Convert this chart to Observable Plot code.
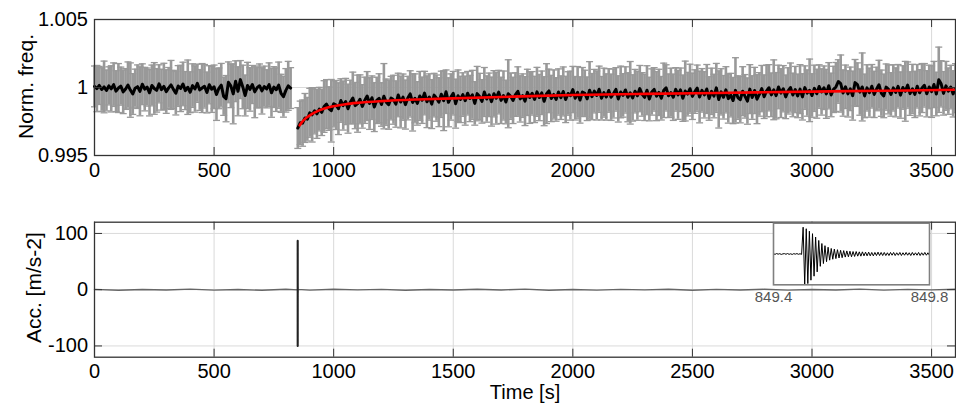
<!DOCTYPE html>
<html>
<head>
<meta charset="utf-8">
<script src="https://cdn.jsdelivr.net/npm/d3@7"></script>
<script src="https://cdn.jsdelivr.net/npm/@observablehq/plot@0.6"></script>
<style>
html, body { margin: 0; padding: 0; background: #fff; }
#chart { position: relative; width: 956px; height: 406px; overflow: hidden; background: #fff; }
#chart svg { position: absolute; left: 0; top: 0; overflow: visible; }
</style>
</head>
<body>
<div id="chart"></div>
<script>
// ---------- tick values and labels ----------
const xTicks = [0, 500, 1000, 1500, 2000, 2500, 3000, 3500];
const xTickLabels = ["0", "500", "1000", "1500", "2000", "2500", "3000", "3500"];
const freqTicks = [0.995, 1, 1.005];
const freqTickLabels = ["0.995", "1", "1.005"];
const accTicks = [-100, 0, 100];
const accTickLabels = ["-100", "0", "100"];
const insetTicks = [849.4, 849.8];
const insetTickLabels = ["849.4", "849.8"];

// ---------- top panel: normalised frequency ----------
// before the shock: one sample every 10 s, 0 .. 820 s
const timeBefore = d3.range(0, 821, 10);
const freqBefore = [
  1.00008,0.99992,1.00015,0.99985,1.00004,0.99978,1.00012,0.99990,1.00021,0.99973,
  0.99996,1.00010,0.99968,0.99989,1.00018,0.99981,0.99952,0.99995,1.00006,0.99972,
  1.00024,0.99988,1.00003,0.99961,1.00015,0.99993,0.99979,1.00027,0.99984,1.00008,
  0.99970,0.99997,1.00019,0.99986,0.99958,1.00011,0.99993,1.00026,0.99977,1.00002,
  0.99965,1.00014,0.99989,1.00031,0.99982,0.99996,1.00009,0.99963,1.00020,0.99987,
  1.00005,0.99948,0.99994,1.00017,0.99935,0.99918,1.00038,1.00012,0.99953,1.00046,
  0.99972,1.00058,1.00004,0.99941,1.00015,0.99986,1.00022,0.99968,0.99999,1.00013,
  0.99975,1.00007,0.99990,1.00021,0.99961,1.00003,0.99984,1.00017,0.99957,0.99932,
  0.99979,1.00012,0.99996
];
const errBefore = [
  0.0015,0.0017,0.0014,0.0016,0.0019,0.0015,0.0014,0.0017,0.0016,0.0015,
  0.0018,0.0014,0.0016,0.0015,0.0017,0.0020,0.0015,0.0014,0.0016,0.0018,
  0.0015,0.0016,0.0014,0.0017,0.0015,0.0019,0.0016,0.0014,0.0015,0.0017,
  0.0016,0.0015,0.0018,0.0014,0.0016,0.0015,0.0017,0.0016,0.0014,0.0020,
  0.0015,0.0016,0.0017,0.0014,0.0015,0.0018,0.0016,0.0015,0.0014,0.0017,
  0.0016,0.0019,0.0015,0.0016,0.0014,0.0017,0.0015,0.0016,0.0022,0.0015,
  0.0018,0.0014,0.0016,0.0015,0.0017,0.0016,0.0014,0.0019,0.0015,0.0016,
  0.0017,0.0015,0.0014,0.0016,0.0018,0.0015,0.0016,0.0017,0.0014,0.0015,
  0.0016,0.0018,0.0015
];
// after the shock: one sample every 10 s, 850 .. 3600 s
const timeAfter = d3.range(850, 3601, 10);
const freqAfter = [
  0.99702,0.99740,0.99738,0.99776,0.99767,0.99814,0.99799,0.99829,0.99806,0.99841,
  0.99817,0.99860,0.99878,0.99845,0.99829,0.99881,0.99871,0.99844,0.99904,0.99867,
  0.99897,0.99844,0.99893,0.99923,0.99867,0.99881,0.99913,0.99861,0.99906,0.99937,
  0.99882,0.99925,0.99856,0.99905,0.99921,0.99875,0.99936,0.99892,0.99873,0.99922,
  0.99910,0.99878,0.99945,0.99893,0.99929,0.99874,0.99922,0.99953,0.99890,0.99920,
  0.99883,0.99938,0.99906,0.99959,0.99895,0.99930,0.99878,0.99944,0.99922,0.99892,
  0.99950,0.99903,0.99969,0.99891,0.99930,0.99958,0.99881,0.99939,0.99912,0.99948,
  0.99903,0.99958,0.99919,0.99946,0.99883,0.99955,0.99934,0.99898,0.99967,0.99915,
  0.99946,0.99896,0.99954,0.99921,0.99966,0.99905,0.99941,0.99893,0.99954,0.99936,
  0.99905,0.99948,0.99972,0.99916,0.99940,0.99900,0.99964,0.99926,0.99957,0.99912,
  0.99968,0.99926,0.99961,0.99899,0.99955,0.99975,0.99919,0.99949,0.99912,0.99967,
  0.99925,0.99971,0.99912,0.99956,0.99940,0.99985,0.99921,0.99964,0.99908,0.99967,
  0.99957,0.99917,0.99980,0.99933,0.99973,0.99941,0.99987,0.99921,0.99962,0.99930,
  0.99978,0.99928,0.99956,0.99986,0.99916,0.99967,0.99942,0.99982,0.99928,0.99961,
  0.99923,0.99973,0.99939,0.99992,0.99949,0.99927,0.99980,0.99915,0.99967,0.99986,
  0.99936,0.99964,0.99921,0.99979,0.99997,0.99939,0.99962,0.99928,0.99986,0.99946,
  0.99983,0.99921,0.99974,0.99951,0.99991,0.99935,0.99970,0.99995,0.99930,0.99979,
  0.99946,0.99989,0.99919,0.99972,0.99937,0.99997,0.99912,0.99968,0.99928,0.99983,
  0.99918,0.99944,0.99904,0.99979,0.99926,0.99910,0.99973,0.99935,0.99900,0.99988,
  0.99926,0.99978,0.99914,0.99949,0.99992,0.99932,0.99975,0.99998,0.99946,0.99983,
  0.99940,1.00004,0.99959,0.99991,0.99931,0.99975,1.00000,0.99945,0.99985,0.99938,
  0.99988,0.99931,0.99999,0.99959,0.99979,0.99941,0.99994,0.99954,1.00007,0.99967,
  0.99998,0.99953,1.00013,0.99945,0.99986,1.00004,1.00044,1.00029,0.99959,1.00005,
  0.99953,0.99990,0.99940,1.00036,1.00021,0.99966,1.00004,0.99938,0.99997,0.99962,
  1.00009,0.99949,0.99989,1.00020,0.99958,0.99938,1.00003,0.99986,0.99949,0.99997,
  0.99964,1.00009,0.99944,1.00000,0.99972,1.00018,0.99955,0.99990,0.99949,1.00009,
  0.99961,0.99996,1.00016,0.99954,1.00004,0.99970,1.00022,0.99952,1.00057,1.00027,
  0.99957,1.00012,0.99973,1.00003,0.99953,0.99995
];
const errAfter = [
  0.0015,0.0016,0.0017,0.0018,0.0016,0.0018,0.0020,0.0017,0.0018,0.0016,
  0.0017,0.0019,0.0018,0.0016,0.0023,0.0017,0.0018,0.0019,0.0016,0.0018,
  0.0017,0.0018,0.0016,0.0019,0.0017,0.0021,0.0018,0.0016,0.0017,0.0018,
  0.0019,0.0016,0.0018,0.0017,0.0018,0.0016,0.0024,0.0017,0.0018,0.0016,
  0.0018,0.0017,0.0016,0.0019,0.0017,0.0018,0.0016,0.0017,0.0021,0.0018,
  0.0016,0.0018,0.0017,0.0016,0.0019,0.0017,0.0018,0.0016,0.0017,0.0018,
  0.0017,0.0022,0.0016,0.0018,0.0017,0.0016,0.0018,0.0019,0.0017,0.0016,
  0.0018,0.0016,0.0017,0.0018,0.0016,0.0020,0.0017,0.0016,0.0018,0.0017,
  0.0016,0.0018,0.0017,0.0019,0.0016,0.0017,0.0018,0.0016,0.0025,0.0017,
  0.0017,0.0016,0.0018,0.0017,0.0016,0.0018,0.0017,0.0019,0.0016,0.0017,
  0.0018,0.0017,0.0016,0.0018,0.0022,0.0016,0.0017,0.0018,0.0016,0.0017,
  0.0016,0.0018,0.0017,0.0016,0.0018,0.0017,0.0016,0.0019,0.0017,0.0018,
  0.0017,0.0016,0.0021,0.0017,0.0016,0.0018,0.0017,0.0016,0.0018,0.0017,
  0.0016,0.0017,0.0018,0.0016,0.0017,0.0019,0.0016,0.0017,0.0018,0.0023,
  0.0017,0.0016,0.0018,0.0017,0.0016,0.0017,0.0018,0.0016,0.0017,0.0016,
  0.0018,0.0017,0.0016,0.0020,0.0017,0.0016,0.0018,0.0017,0.0016,0.0018,
  0.0016,0.0017,0.0022,0.0016,0.0018,0.0017,0.0016,0.0017,0.0019,0.0016,
  0.0017,0.0018,0.0016,0.0017,0.0016,0.0018,0.0021,0.0017,0.0016,0.0017,
  0.0018,0.0016,0.0017,0.0024,0.0016,0.0017,0.0018,0.0016,0.0017,0.0018,
  0.0016,0.0017,0.0018,0.0016,0.0017,0.0016,0.0019,0.0017,0.0016,0.0022,
  0.0017,0.0016,0.0018,0.0017,0.0016,0.0017,0.0018,0.0016,0.0017,0.0016,
  0.0018,0.0017,0.0016,0.0017,0.0023,0.0016,0.0017,0.0018,0.0016,0.0017,
  0.0016,0.0018,0.0017,0.0016,0.0017,0.0018,0.0016,0.0021,0.0017,0.0016,
  0.0017,0.0016,0.0018,0.0017,0.0016,0.0017,0.0025,0.0016,0.0017,0.0018,
  0.0016,0.0017,0.0016,0.0018,0.0017,0.0016,0.0017,0.0018,0.0016,0.0017,
  0.0018,0.0016,0.0017,0.0016,0.0022,0.0017,0.0016,0.0018,0.0017,0.0016,
  0.0017,0.0018,0.0016,0.0017,0.0016,0.0019,0.0017,0.0016,0.0024,0.0017,
  0.0016,0.0018,0.0017,0.0016,0.0017,0.0018
];
// fitted recovery curve (red)
const fitTime = [858, 865, 875, 890, 910, 935, 965, 1000, 1050, 1100, 1200, 1350, 1500, 1750, 2000, 2300, 2600, 3000, 3300, 3600];
const fitFreq = [0.99722, 0.99740, 0.99760, 0.99783, 0.99806, 0.99828, 0.99847, 0.99862, 0.99877, 0.99887, 0.99900, 0.99912, 0.99920, 0.99933, 0.99945, 0.99953, 0.99960, 0.99970, 0.99976, 0.99983];

// ---------- bottom panel: acceleration ----------
const accBaseTime = [0,100,200,300,400,500,600,700,800,849.3,849.9,900,1000,1100,1200,1300,1400,1500,1600,1700,1800,1900,2000,2100,2200,2300,2400,2500,2600,2700,2800,2900,3000,3100,3200,3300,3400,3500,3600];
const accBaseValue = [0.6,-0.9,0.4,-0.5,1.0,-0.7,0.3,-1.1,0.8,-0.4,0.5,-0.8,0.9,-0.3,0.6,-1.0,0.4,-0.6,0.8,-0.5,1.1,-0.9,0.3,-0.7,0.6,-0.4,0.9,-1.0,0.5,-0.6,0.7,-0.8,0.4,-0.5,1.0,-0.7,0.6,-0.3,0.8];
// shock record, one sample every 4 ms from 849.400 s to 849.800 s
const insetTime = d3.range(101).map(i => +(849.4 + i * 0.004).toFixed(3));
const accInset = [
  0.8,-1.2,1.5,-0.6,1.1,-1.4,0.4,1.3,-0.9,1.6,-1.1,0.7,-1.5,1.2,-0.5,1.4,-1.0,0.9,-1.3,
  87,-100,82,-96,74,-85,66,-72,55,-58,44,-40,34,-31,27,-25,22,-20,18,-17,16,-15,14,-13,12,-12,11,-10,10,-9,9,-9,8,-8,8,-7,7,-7,7,-6,6,-6,
  6,-6,5,-6,5,-5,6,-5,5,-5,5,-5,4,-5,5,-4,5,-5,4,-4,5,-5,4,-4,5,-4,4,-5,5,-4,4,-4,5,-5,4,-4,5,-4,4,-5
];

// ---------- build tables ----------
const freqData = [
  ...timeBefore.map((t, i) => ({t, f: freqBefore[i], e: errBefore[i], seg: "before"})),
  ...timeAfter.map((t, i) => ({t, f: freqAfter[i], e: errAfter[i], seg: "after"}))
];
const fitData = fitTime.map((t, i) => ({t, f: fitFreq[i]}));
const insetData = insetTime.map((t, i) => ({t, a: accInset[i]}));
const accData = [
  ...accBaseTime.map((t, i) => ({t, a: accBaseValue[i]})),
  ...insetData
].sort((p, q) => p.t - q.t);

const FONT = '"Liberation Sans", Arial, Helvetica, sans-serif';
const FRAME = "#333";
const GRID = "#dadada";
const ERR = "#999999";
const fmt = (ticks, labels) => d => labels[ticks.indexOf(d)];
const capSymbol = {
  draw(ctx, size) {
    const w = Math.sqrt(size / Math.PI);
    ctx.moveTo(-w, 0);
    ctx.lineTo(w, 0);
  }
};

const chart = document.getElementById("chart");

// ---------- top plot ----------
const topW = 956, topH = 200, tML = 94, tMR = 1, tMT = 19, tMB = 45;
const tFW = topW - tML - tMR, tFH = topH - tMT - tMB;
const topPlot = Plot.plot({
  width: topW, height: topH,
  marginLeft: tML, marginRight: tMR, marginTop: tMT, marginBottom: tMB,
  style: {fontFamily: FONT, fontSize: "20px", background: "transparent", color: "#000"},
  x: {domain: [0, 3600]},
  y: {domain: [0.995, 1.005]},
  marks: [
    Plot.ruleX(xTicks, {stroke: GRID}),
    Plot.ruleY(freqTicks, {stroke: GRID}),
    Plot.ruleX(freqData, {x: "t", y1: d => d.f - d.e, y2: d => d.f + d.e, stroke: ERR, strokeWidth: 2.6}),
    Plot.dot(freqData, {x: "t", y: d => d.f + d.e, symbol: capSymbol, r: 3.5, fill: "none", stroke: ERR, strokeWidth: 1.3}),
    Plot.dot(freqData, {x: "t", y: d => d.f - d.e, symbol: capSymbol, r: 3.5, fill: "none", stroke: ERR, strokeWidth: 1.3}),
    Plot.line(freqData, {x: "t", y: "f", z: "seg", stroke: "#000", strokeWidth: 3}),
    Plot.line(fitData, {x: "t", y: "f", stroke: "#ff0000", strokeWidth: 2.6, curve: "monotone-x"}),
    Plot.frame({stroke: FRAME, strokeWidth: 1.3}),
    Plot.tickX(xTicks, {x: d => d, insetTop: tFH - 8, stroke: FRAME}),
    Plot.tickX(xTicks, {x: d => d, insetBottom: tFH - 8, stroke: FRAME}),
    Plot.tickY(freqTicks, {y: d => d, insetRight: tFW - 8, stroke: FRAME}),
    Plot.tickY(freqTicks, {y: d => d, insetLeft: tFW - 8, stroke: FRAME}),
    Plot.axisX({ticks: xTicks, tickSize: 0, tickPadding: 7, tickFormat: fmt(xTicks, xTickLabels), fontSize: 20, label: null}),
    Plot.axisY({ticks: freqTicks, tickSize: 0, tickPadding: 6.5, tickFormat: fmt(freqTicks, freqTickLabels), fontSize: 20, label: null}),
    Plot.text(["Norm. freq."], {text: d => d, frameAnchor: "left", textAnchor: "middle", lineAnchor: "middle", dx: -68, dy: -1, rotate: -90, fontSize: 21})
  ]
});
topPlot.style.left = "0px";
topPlot.style.top = "0px";
chart.appendChild(topPlot);

// ---------- bottom plot ----------
const botW = 956, botH = 206, bML = 94, bMR = 1, bMT = 21.7, bMB = 49.3;
const bFW = botW - bML - bMR, bFH = botH - bMT - bMB;
const botPlot = Plot.plot({
  width: botW, height: botH,
  marginLeft: bML, marginRight: bMR, marginTop: bMT, marginBottom: bMB,
  style: {fontFamily: FONT, fontSize: "20px", background: "transparent", color: "#000"},
  x: {domain: [0, 3600]},
  y: {domain: [-120, 120]},
  marks: [
    Plot.ruleX(xTicks, {stroke: GRID}),
    Plot.ruleY(accTicks, {stroke: GRID}),
    Plot.line(accData, {x: "t", y: "a", stroke: "#666", strokeWidth: 1.4}),
    Plot.line(insetData, {x: "t", y: "a", stroke: "#222", strokeWidth: 2}),
    Plot.frame({stroke: FRAME, strokeWidth: 1.3}),
    Plot.tickX(xTicks, {x: d => d, insetTop: bFH - 8, stroke: FRAME}),
    Plot.tickX(xTicks, {x: d => d, insetBottom: bFH - 8, stroke: FRAME}),
    Plot.tickY(accTicks, {y: d => d, insetRight: bFW - 8, stroke: FRAME}),
    Plot.tickY(accTicks, {y: d => d, insetLeft: bFW - 8, stroke: FRAME}),
    Plot.axisX({ticks: xTicks, tickSize: 0, tickPadding: 7, tickFormat: fmt(xTicks, xTickLabels), fontSize: 20, label: null}),
    Plot.axisY({ticks: accTicks, tickSize: 0, tickPadding: 6.5, tickFormat: fmt(accTicks, accTickLabels), fontSize: 20, label: null}),
    Plot.text(["Acc. [m/s-2]"], {text: d => d, frameAnchor: "left", textAnchor: "middle", lineAnchor: "middle", dx: -60, dy: -2, rotate: -90, fontSize: 21}),
    Plot.text(["Time [s]"], {text: d => d, frameAnchor: "bottom", textAnchor: "middle", lineAnchor: "middle", dy: 35, fontSize: 20})
  ]
});
botPlot.style.left = "0px";
botPlot.style.top = "200px";
chart.appendChild(botPlot);

// ---------- inset ----------
const insetPlot = Plot.plot({
  width: 216, height: 100,
  marginLeft: 30, marginRight: 30, marginTop: 10.7, marginBottom: 27.7,
  style: {fontFamily: FONT, fontSize: "15px", background: "transparent", color: "#555"},
  x: {domain: [849.4, 849.8]},
  y: {domain: [-100, 100], axis: null},
  marks: [
    Plot.frame({fill: "#fff", stroke: null}),
    Plot.line(insetData, {x: "t", y: "a", stroke: "#000", strokeWidth: 1}),
    Plot.frame({stroke: "#808080", strokeWidth: 1.6}),
    Plot.axisX({ticks: insetTicks, tickSize: 0, tickPadding: 7, tickFormat: fmt(insetTicks, insetTickLabels), fontSize: 15, color: "#555", label: null})
  ]
});
insetPlot.style.left = "743px";
insetPlot.style.top = "212px";
chart.appendChild(insetPlot);
</script>
</body>
</html>
